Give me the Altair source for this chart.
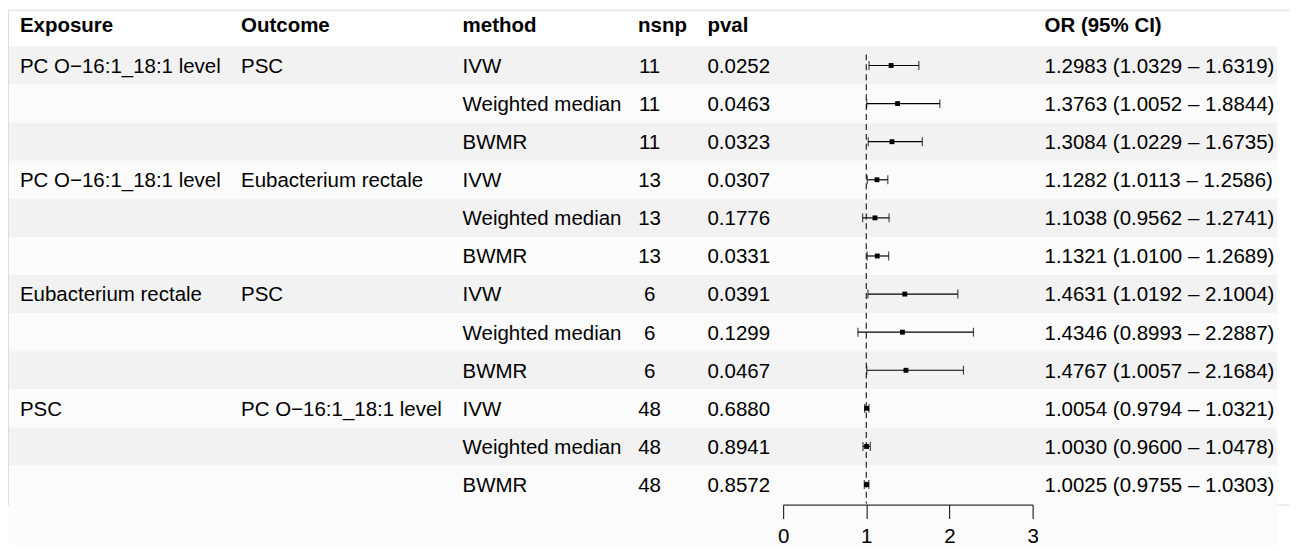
import altair as alt
import pandas as pd

# ---- data ----
exposure = ["PC O−16:1_18:1 level", "", "", "PC O−16:1_18:1 level", "", "",
            "Eubacterium rectale", "", "", "PSC", "", ""]
outcome = ["PSC", "", "", "Eubacterium rectale", "", "",
           "PSC", "", "", "PC O−16:1_18:1 level", "", ""]
method = ["IVW", "Weighted median", "BWMR", "IVW", "Weighted median", "BWMR",
          "IVW", "Weighted median", "BWMR", "IVW", "Weighted median", "BWMR"]
nsnp = ["11", "11", "11", "13", "13", "13", "6", "6", "6", "48", "48", "48"]
pval = ["0.0252", "0.0463", "0.0323", "0.0307", "0.1776", "0.0331",
        "0.0391", "0.1299", "0.0467", "0.6880", "0.8941", "0.8572"]
or_est = [1.2983, 1.3763, 1.3084, 1.1282, 1.1038, 1.1321,
          1.4631, 1.4346, 1.4767, 1.0054, 1.0030, 1.0025]
or_lo = [1.0329, 1.0052, 1.0229, 1.0113, 0.9562, 1.0100,
         1.0192, 0.8993, 1.0057, 0.9794, 0.9600, 0.9755]
or_hi = [1.6319, 1.8844, 1.6735, 1.2586, 1.2741, 1.2689,
         2.1004, 2.2887, 2.1684, 1.0321, 1.0478, 1.0303]
headers = ["Exposure", "Outcome", "method", "nsnp", "pval", "", "OR (95% CI)"]
axis_ticks = [0, 1, 2, 3]
ref_value = 1

rows = list(range(1, len(method) + 1))
df = pd.DataFrame({
    "row": rows,
    "exposure": exposure,
    "outcome": outcome,
    "method": method,
    "nsnp": nsnp,
    "pval": pval,
    "est": or_est,
    "lo": or_lo,
    "hi": or_hi,
})
df["ci"] = [f"{e:.4f} ({l:.4f} – {h:.4f})" for e, l, h in zip(or_est, or_lo, or_hi)]
df["fill"] = ["#f2f2f2" if r % 2 == 1 else "#fbfbfb" for r in rows]
df["ref"] = ref_value

FONT = "Liberation Sans, Arial, Helvetica, sans-serif"
FS = 20.6

yscale = alt.Scale(type="band", domain=rows, range=[37, 497], paddingInner=0, paddingOuter=0)
xscale = alt.Scale(domain=[0, 3], range=[780, 1031], nice=False, zero=False)
xaxis = alt.Axis(values=axis_ticks, title=None, grid=False, domainColor="black",
                 domainWidth=1, tickColor="black", tickWidth=1, tickSize=14,
                 labelFont=FONT, labelFontSize=FS, labelColor="black",
                 labelPadding=8, labelFlush=False, format="d", zindex=2)

base = alt.Chart(df)
Y = alt.Y("row:O", scale=yscale, axis=None, bandPosition=0.5)

bands = base.mark_rect().encode(
    y=alt.Y("row:O", scale=yscale, axis=None),
    x=alt.value(1), x2=alt.value(1277),
    color=alt.Color("fill:N", scale=None),
)
band_tail = base.transform_filter(alt.datum.row == len(rows)).mark_rect().encode(
    y=alt.value(497), y2=alt.value(539),
    x=alt.value(1), x2=alt.value(1277),
    color=alt.Color("fill:N", scale=None),
)

# header x, body x, body alignment
cols = [
    ("Exposure", "exposure", 12, 12, "left"),
    ("Outcome", "outcome", 234.5, 234.5, "left"),
    ("method", "method", 457.4, 457.4, "left"),
    ("nsnp", "nsnp", 634, 645.6, "center"),
    ("pval", "pval", 703.8, 703.8, "left"),
    ("OR (95% CI)", "ci", 1043, 1043, "left"),
]

layers = [bands, band_tail]

for h, f, hx, bx, al in cols:
    layers.append(
        base.transform_filter(alt.datum.row == 1).mark_text(
            align="left", baseline="alphabetic", font=FONT, fontSize=FS,
            fontWeight="bold", color="black"
        ).encode(x=alt.value(hx), y=alt.value(22.5), text=alt.value(h))
    )
    layers.append(
        base.mark_text(align=al, baseline="alphabetic", font=FONT,
                       fontSize=FS, color="black", dy=7.4).encode(
            x=alt.value(bx), y=Y, text=f"{f}:N")
    )

# reference line
ref = base.transform_filter(alt.datum.row == 1).mark_rule(
    color="#333333", strokeWidth=1.3, strokeDash=[6, 4]
).encode(x=alt.X("ref:Q", scale=xscale, axis=xaxis), y=alt.value(45), y2=alt.value(497))

ci = base.mark_rule(color="black", strokeWidth=1.2).encode(
    x=alt.X("lo:Q", scale=xscale, axis=xaxis), x2="hi:Q", y=Y)
cap_lo = base.mark_tick(orient="vertical", size=9, thickness=1.2, color="black").encode(
    x=alt.X("lo:Q", scale=xscale, axis=xaxis), y=Y)
cap_hi = base.mark_tick(orient="vertical", size=9, thickness=1.2, color="black").encode(
    x=alt.X("hi:Q", scale=xscale, axis=xaxis), y=Y)
pts = base.mark_square(size=24, color="black", opacity=1, filled=True).encode(
    x=alt.X("est:Q", scale=xscale, axis=xaxis), y=Y)

layers += [ref, ci, cap_lo, cap_hi, pts]

chart = alt.layer(*layers).properties(
    width=1290, height=498,
    autosize=alt.AutoSizeParams(type="none"),
    padding={"left": 0, "top": 0, "right": 0, "bottom": 45},
).configure_view(stroke=None).configure(background="white")

chart.save("out.html", embed_options={"renderer": "svg", "actions": False})
